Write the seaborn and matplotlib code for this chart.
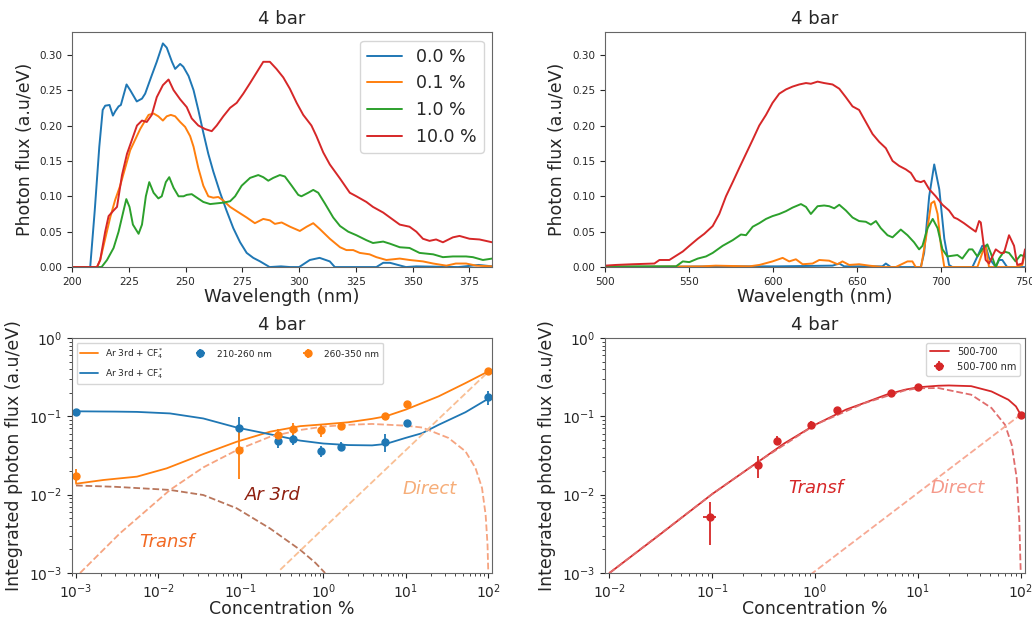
#!/usr/bin/env python3

"""Ar/CF4 scintillation: emission spectra at 4 bar and integrated photon flux vs concentration."""

import seaborn as sns
import pandas as pd
import matplotlib.pyplot as plt
from matplotlib.lines import Line2D

####################################################################################################
# DATA

# UV spectra (200-385 nm), one list pair per CF4 concentration
uv_wl_00 = [200, 208, 210, 212, 213.5, 214.6, 216.5, 218, 219, 220.5, 221.5, 224, 225.6, 228.5, 230.8, 232.2,
            235, 237.3, 240, 241.7, 244, 245.4, 247.6, 249, 251.3, 253.5, 255.6, 257.8, 260, 262.2, 265.2, 268,
            271, 274, 276.9, 279.8, 282.8, 287, 292, 296, 300, 304.7, 309, 313.5, 315.7, 334, 337, 340, 347,
            351.6, 370, 379, 385]
uv_fx_00 = [0, 0, 0.08, 0.17, 0.222, 0.228, 0.229, 0.214, 0.22, 0.227, 0.229, 0.258, 0.25, 0.234, 0.238, 0.245,
            0.27, 0.29, 0.316, 0.31, 0.29, 0.28, 0.287, 0.283, 0.27, 0.25, 0.222, 0.19, 0.16, 0.135, 0.105, 0.08,
            0.055, 0.035, 0.02, 0.013, 0.008, 0.0, 0.001, 0.0, 0.0, 0.01, 0.013, 0.008, 0.0, 0.0, 0.006, 0.006, 0.0,
            0.001, 0.0, 0.003, 0.001]

uv_wl_01 = [200, 211, 212.4, 214.6, 216.8, 219, 221.2, 223.4, 225.6, 227.8, 230, 232.2, 233.7, 235.9, 238, 240,
            241.7, 243.5, 245.4, 247.6, 249.8, 252, 253.5, 255.6, 257.8, 260, 262.2, 264.4, 266.6, 269.6, 272.5,
            276.9, 280.5, 284.2, 287.1, 289.3, 292.3, 296, 300.3, 303.3, 306.2, 309, 313.5, 318, 320.8, 323.8,
            326.7, 331, 334, 338.4, 344.3, 348.6, 354.5, 359, 364.8, 369, 373.5, 378, 385]
uv_fx_01 = [0, 0, 0.01, 0.04, 0.07, 0.095, 0.115, 0.14, 0.165, 0.18, 0.195, 0.207, 0.215, 0.217, 0.213, 0.207,
            0.213, 0.215, 0.213, 0.205, 0.198, 0.185, 0.17, 0.14, 0.115, 0.1, 0.098, 0.099, 0.094, 0.085, 0.079,
            0.07, 0.062, 0.068, 0.066, 0.061, 0.063, 0.057, 0.051, 0.057, 0.062, 0.054, 0.04, 0.028, 0.024, 0.024,
            0.02, 0.018, 0.014, 0.01, 0.012, 0.01, 0.008, 0.005, 0.002, 0.005, 0.005, 0.002, 0.001]

uv_wl_10 = [200, 213, 215.4, 218.3, 220.5, 222.7, 223.9, 225.3, 226.8, 229.3, 230.8, 232.5, 234, 235.9, 238,
            239.5, 241.3, 242.8, 244.7, 246.9, 249.1, 250.5, 252.7, 255, 257.8, 260.8, 263.7, 266.6, 269.6, 271.8,
            274.7, 278.4, 282, 284.2, 286.4, 288.6, 291.5, 293.7, 296.7, 299.6, 301, 304, 306.2, 308.4, 311.3, 315,
            318, 321.6, 325.2, 329.6, 332.5, 337, 340, 344.3, 348.6, 353, 359, 363.3, 367.7, 373.5, 376.5, 380.9,
            385]
uv_fx_10 = [0, 0, 0.01, 0.027, 0.05, 0.08, 0.096, 0.085, 0.06, 0.047, 0.06, 0.1, 0.12, 0.105, 0.097,
            0.1, 0.12, 0.127, 0.112, 0.1, 0.1, 0.102, 0.103, 0.098, 0.092, 0.089, 0.09, 0.091, 0.093, 0.1,
            0.115, 0.126, 0.13, 0.127, 0.122, 0.126, 0.13, 0.128, 0.115, 0.102, 0.1, 0.105, 0.109, 0.105, 0.09, 0.07,
            0.058, 0.05, 0.045, 0.038, 0.034, 0.036, 0.033, 0.028, 0.027, 0.02, 0.018, 0.014, 0.015, 0.015, 0.014, 0.01,
            0.012]

uv_wl_100 = [200, 211, 212.4, 214.6, 216.1, 218.3, 219.8, 222, 224.2, 226.4, 228.6, 230.8, 232.9, 235.1, 237.3,
             240, 242.5, 244.7, 247.6, 250.5, 252.7, 255.6, 258.6, 261.5, 263.7, 266.6, 269.6, 272.5, 275.4, 278.4,
             281.3, 284.2, 287.1, 290, 293, 295.9, 298.9, 301.8, 305.4, 307.6, 310.6, 313.5, 318, 322.3, 325.2,
             329.6, 332.5, 337, 340, 344.3, 348.6, 351.6, 354.5, 357.4, 360.3, 363.3, 367.7, 370.6, 375, 379.4, 385]
uv_fx_100 = [0, 0, 0.01, 0.05, 0.072, 0.08, 0.085, 0.13, 0.16, 0.18, 0.2, 0.207, 0.205, 0.215, 0.24,
             0.257, 0.265, 0.25, 0.237, 0.226, 0.21, 0.2, 0.195, 0.192, 0.2, 0.213, 0.225, 0.232, 0.245, 0.26,
             0.275, 0.29, 0.29, 0.28, 0.268, 0.252, 0.232, 0.215, 0.2, 0.185, 0.162, 0.145, 0.125, 0.105, 0.1,
             0.092, 0.085, 0.077, 0.07, 0.06, 0.057, 0.05, 0.04, 0.037, 0.039, 0.035, 0.042, 0.044, 0.04, 0.039, 0.035]

# visible spectra (500-750 nm)
vis_wl_00 = [500, 574, 601.8, 635.5, 639.5, 642.4, 665.2, 667.2, 670.2, 688, 690, 693, 696, 699, 702, 704.8,
             706.8, 718.7, 721.7, 724.6, 726.6, 728.6, 732.6, 734.6, 736.5, 739.4, 750]
vis_fx_00 = [0, 0.001, 0.001, 0.002, 0.005, 0.001, 0.001, 0.005, 0.0, 0.0, 0.02, 0.1, 0.145, 0.11, 0.04, 0.003,
             0.0, 0.0, 0.015, 0.03, 0.03, 0.013, 0.0, 0.01, 0.01, 0.0, 0.0]

vis_wl_01 = [500, 558, 566, 586, 592, 599.8, 605.8, 609.7, 613.7, 617.7, 623.6, 627.6, 633.5, 638.5, 641.4, 645.4,
             651.3, 657.3, 665.2, 673.1, 680.1, 683, 685, 688.2, 691, 694.2, 696, 698, 700, 702, 721.7, 724.6,
             726.6, 728.6, 744.4, 748.4, 750]
vis_fx_01 = [0, 0.001, 0.002, 0.001, 0.003, 0.008, 0.013, 0.008, 0.011, 0.004, 0.005, 0.01, 0.009, 0.004, 0.008,
             0.003, 0.004, 0.002, 0.0, 0.0, 0.008, 0.008, 0.0, 0.0, 0.04, 0.09, 0.093, 0.075, 0.03, 0.0, 0.0, 0.02,
             0.03, 0.0, 0.0, 0.003, 0.02]

vis_wl_10 = [500, 542.4, 546.4, 550.3, 555.3, 560.2, 564.2, 570.1, 576.1, 581, 584, 588, 591.9, 595.9, 599.8,
             603.8, 607.8, 611.7, 616.7, 619.7, 622.6, 626.6, 630.5, 633.5, 636.5, 639.5, 643.4, 647.4, 651.3,
             655.3, 658.3, 661.3, 664.2, 668.2, 671.2, 676.1, 680.1, 684, 687, 689, 692, 695.1, 698, 700.9, 703.8,
             706.8, 709.8, 712.7, 716.7, 718.7, 721.7, 724.6, 727.6, 729.6, 732.6, 734.6, 737.5, 740.5, 744.4,
             747.4, 750]
vis_fx_10 = [0.001, 0.001, 0.008, 0.007, 0.012, 0.015, 0.02, 0.03, 0.038, 0.046, 0.045, 0.057, 0.062, 0.068, 0.072,
             0.075, 0.079, 0.084, 0.089, 0.085, 0.075, 0.086, 0.087, 0.086, 0.083, 0.088, 0.08, 0.07, 0.065,
             0.064, 0.06, 0.065, 0.055, 0.045, 0.042, 0.053, 0.045, 0.035, 0.025, 0.03, 0.055, 0.068, 0.055, 0.025,
             0.015, 0.016, 0.017, 0.012, 0.025, 0.025, 0.015, 0.025, 0.032, 0.02, 0.0, 0.012, 0.022, 0.02, 0.008,
             0.017, 0.015]

vis_wl_100 = [500, 506.7, 516.6, 529.5, 532.5, 538.4, 542.4, 546.4, 550.3, 555.3, 559.2, 564.2, 568.1, 572.1,
              576.1, 580, 584, 588, 591.9, 595.9, 599.8, 603.8, 607.8, 611.7, 615.7, 619.7, 622.6, 626.6, 630.5,
              635.5, 639.5, 643.4, 647.4, 651.3, 655.3, 659.3, 663.2, 667.2, 671.2, 675.1, 679.1, 682.1, 685, 688,
              690, 693, 696.9, 700.9, 704.8, 707.8, 709.8, 713.7, 717.7, 720.7, 722.7, 723.7, 726.6, 728.6, 730.6,
              732.6, 735.5, 737.5, 740.5, 743.5, 745.4, 748.4, 750]
vis_fx_100 = [0.002, 0.003, 0.004, 0.005, 0.01, 0.01, 0.016, 0.022, 0.03, 0.04, 0.047, 0.058, 0.075, 0.1,
              0.12, 0.14, 0.16, 0.18, 0.2, 0.215, 0.232, 0.245, 0.251, 0.255, 0.258, 0.26, 0.259, 0.262, 0.26,
              0.258, 0.252, 0.24, 0.227, 0.222, 0.205, 0.188, 0.177, 0.168, 0.15, 0.143, 0.138, 0.133, 0.122, 0.12,
              0.122, 0.11, 0.1, 0.088, 0.08, 0.07, 0.068, 0.062, 0.055, 0.05, 0.065, 0.063, 0.01, 0.005, 0.015,
              0.025, 0.02, 0.02, 0.045, 0.03, 0.003, 0.005, 0.025]

conc_labels = ["0.0 %", "0.1 %", "1.0 %", "10.0 %"]

# integrated flux, 210-260 nm and 260-350 nm bands
conc_uv = [0.001, 0.096, 0.28, 0.43, 0.93, 1.63, 5.6, 10.2, 100]
flux_210 = [0.114, 0.071, 0.049, 0.051, 0.036, 0.041, 0.047, 0.082, 0.175]
err_lo_210 = [0.006, 0.021, 0.010, 0.008, 0.006, 0.005, 0.012, 0.003, 0.035]
err_hi_210 = [0.006, 0.027, 0.011, 0.009, 0.006, 0.006, 0.013, 0.003, 0.035]
flux_260 = [0.0175, 0.037, 0.058, 0.069, 0.066, 0.075, 0.102, 0.145, 0.375]
err_lo_260 = [0.0035, 0.021, 0.008, 0.011, 0.011, 0.006, 0.007, 0.008, 0.02]
err_hi_260 = [0.0035, 0.032, 0.010, 0.013, 0.011, 0.007, 0.008, 0.008, 0.02]
xerr_uv = [0.00005, 0.006, 0.014, 0.02, 0.04, 0.07, 0.25, 0.4, 2]

# fitted model curves, UV bands
fit_260_c = [0.001, 0.00215, 0.0055, 0.0126, 0.035, 0.089, 0.226, 0.525, 1, 2, 3.9, 5.7, 10, 25, 53, 100]
fit_260 = [0.0138, 0.0154, 0.017, 0.0217, 0.033, 0.0474, 0.0637, 0.075, 0.079, 0.084, 0.093, 0.100, 0.122,
           0.18, 0.266, 0.375]
fit_210_c = [0.001, 0.003, 0.0055, 0.0138, 0.035, 0.089, 0.226, 0.525, 1, 2, 3.9, 5.7, 9.9, 15.8, 25, 53, 100]
fit_210 = [0.116, 0.115, 0.114, 0.109, 0.094, 0.072, 0.059, 0.049, 0.045, 0.043, 0.0426, 0.0444, 0.053, 0.061,
           0.078, 0.113, 0.168]
ar3_c = [0.001, 0.003, 0.0138, 0.035, 0.089, 0.226, 0.525, 0.8, 1.05]
ar3_flux = [0.0131, 0.0126, 0.0115, 0.0099, 0.0067, 0.0037, 0.00197, 0.00135, 0.001]
tr_c = [0.00112, 0.0034, 0.0138, 0.035, 0.089, 0.226, 0.525, 1, 2, 3.9, 10, 15.8, 33, 53, 70, 84, 93, 98, 100]
tr_flux = [0.001, 0.0032, 0.0115, 0.0223, 0.037, 0.055, 0.067, 0.074, 0.078, 0.080, 0.076, 0.072, 0.053, 0.0357,
           0.0219, 0.0122, 0.0055, 0.0023, 0.00105]
dir_c = [0.3, 1, 10, 100]
dir_flux = [0.0011, 0.0037, 0.037, 0.37]

# visible band 500-700 nm
conc_vis = [0.096, 0.28, 0.43, 0.92, 1.63, 5.5, 10.1, 100]
flux_500 = [0.0052, 0.0237, 0.049, 0.077, 0.122, 0.199, 0.237, 0.105]
err_lo_500 = [0.0029, 0.0074, 0.006, 0.009, 0.006, 0.01, 0.012, 0.005]
err_hi_500 = [0.0028, 0.0073, 0.007, 0.009, 0.006, 0.01, 0.012, 0.005]
xerr_vis = [0.014, 0.014, 0.02, 0.04, 0.07, 0.25, 0.4, 2]
fit_vis_c = [0.01, 0.03, 0.1, 0.3, 0.5, 1, 2, 3, 5, 7.5, 10, 15.8, 20, 33, 52, 76, 90, 100]
fit_vis = [0.001, 0.003, 0.0102, 0.028, 0.045, 0.078, 0.122, 0.148, 0.19, 0.219, 0.235, 0.246, 0.248, 0.243,
           0.208, 0.163, 0.134, 0.105]
tr_vis_c = [0.01, 0.1, 0.3, 1, 3, 7.5, 10, 15.8, 33, 52, 70.5, 81.8, 91.5, 97, 100]
tr_vis = [0.001, 0.0102, 0.028, 0.078, 0.147, 0.215, 0.228, 0.23, 0.189, 0.128, 0.078, 0.0435, 0.0163, 0.0046,
          0.00107]
dir_vis_c = [0.9, 100]
dir_vis = [0.00095, 0.105]

####################################################################################################

sns.set_style("ticks", {"axes.edgecolor": "0.4"})
plt.rcParams['font.family'] = ['DejaVu Sans']
pal = sns.color_palette("tab10")
blue, orange, green, red = pal[0], pal[1], pal[2], pal[3]
series_colors = [blue, orange, green, red]

fig, axes = plt.subplots(2, 2, figsize=(10.32, 6.17), dpi=100)
fig.subplots_adjust(left=0.0698, right=0.9932, bottom=0.0713, top=0.948, wspace=0.268, hspace=0.302)

# SPECTRA
uv_sets = [(uv_wl_00, uv_fx_00), (uv_wl_01, uv_fx_01), (uv_wl_10, uv_fx_10), (uv_wl_100, uv_fx_100)]
vis_sets = [(vis_wl_00, vis_fx_00), (vis_wl_01, vis_fx_01), (vis_wl_10, vis_fx_10), (vis_wl_100, vis_fx_100)]

for ax, sets, xlim, xt in [(axes[0, 0], uv_sets, (200, 385), range(200, 376, 25)),
                           (axes[0, 1], vis_sets, (500, 750), range(500, 751, 50))]:
    for (wl, fx), lab, col in zip(sets, conc_labels, series_colors):
        df = pd.DataFrame({"wl": wl, "flux": fx})
        sns.lineplot(data=df, x="wl", y="flux", ax=ax, color=col, label=lab,
                     estimator=None, sort=False, linewidth=1.4)
    ax.set_xlim(*xlim)
    ax.set_ylim(0, 0.332)
    ax.set_xticks(list(xt))
    ax.set_yticks([0, 0.05, 0.10, 0.15, 0.20, 0.25, 0.30])
    ax.set_yticklabels(["0.00", "0.05", "0.10", "0.15", "0.20", "0.25", "0.30"])
    ax.tick_params(labelsize=7.5, length=3.5)
    ax.set_xlabel("Wavelength (nm)", fontsize=13, labelpad=1)
    ax.set_ylabel("Photon flux (a.u/eV)", fontsize=12.5)
    ax.set_title("4 bar", fontsize=13)

axes[0, 0].legend(loc="upper right", fontsize=12.5)
axes[0, 1].get_legend().remove()

# INTEGRATED FLUX, UV BANDS
ax = axes[1, 0]
ax.set_xscale("log")
ax.set_yscale("log")
sns.lineplot(x=fit_260_c, y=fit_260, ax=ax, color=orange, linewidth=1.3, estimator=None, sort=False)
sns.lineplot(x=fit_210_c, y=fit_210, ax=ax, color=blue, linewidth=1.3, estimator=None, sort=False)
sns.lineplot(x=ar3_c, y=ar3_flux, ax=ax, color="#b9765c", linewidth=1.3, linestyle="--", estimator=None, sort=False)
sns.lineplot(x=tr_c, y=tr_flux, ax=ax, color="#f6a480", linewidth=1.3, linestyle="--", estimator=None, sort=False)
sns.lineplot(x=dir_c, y=dir_flux, ax=ax, color="#f9bf94", linewidth=1.3, linestyle="--", estimator=None, sort=False)
eb1 = ax.errorbar(conc_uv, flux_210, yerr=[err_lo_210, err_hi_210], xerr=xerr_uv, fmt="o", ms=5,
                  color=blue, elinewidth=1.3, label="210-260 nm")
eb2 = ax.errorbar(conc_uv, flux_260, yerr=[err_lo_260, err_hi_260], xerr=xerr_uv, fmt="o", ms=5,
                  color=orange, elinewidth=1.3, label="260-350 nm")
ax.text(0.244, 0.0098, "Ar 3rd", color="#8e1f0f", fontsize=13, style="italic", ha="center", va="center")
ax.text(19.6, 0.0119, "Direct", color="#f6ad78", fontsize=13, style="italic", ha="center", va="center")
ax.text(0.0127, 0.0025, "Transf", color="#f26a24", fontsize=13, style="italic", ha="center", va="center")
handles = [Line2D([], [], color=orange, lw=1.3), Line2D([], [], color=blue, lw=1.3), eb1, eb2]
labels = [r"Ar 3rd + CF$_4^*$", r"Ar 3rd + CF$_4^*$", "210-260 nm", "260-350 nm"]
ax.legend(handles, labels, loc="upper left", ncol=3, fontsize=6.5, columnspacing=3.0)
ax.set_xlim(10 ** -3.048, 10 ** 2.048)
ax.set_ylim(1e-3, 1)

# INTEGRATED FLUX, VISIBLE BAND
ax = axes[1, 1]
ax.set_xscale("log")
ax.set_yscale("log")
sns.lineplot(x=fit_vis_c, y=fit_vis, ax=ax, color=red, linewidth=1.3, estimator=None, sort=False)
sns.lineplot(x=tr_vis_c, y=tr_vis, ax=ax, color="#e06c6c", linewidth=1.3, linestyle="--", estimator=None, sort=False)
sns.lineplot(x=dir_vis_c, y=dir_vis, ax=ax, color="#f7a994", linewidth=1.3, linestyle="--", estimator=None, sort=False)
eb3 = ax.errorbar(conc_vis, flux_500, yerr=[err_lo_500, err_hi_500], xerr=xerr_vis, fmt="o", ms=5,
                  color=red, elinewidth=1.3, label="500-700 nm")
ax.text(1.02, 0.0122, "Transf", color=red, fontsize=13, style="italic", ha="center", va="center")
ax.text(24.3, 0.0122, "Direct", color="#f5998a", fontsize=13, style="italic", ha="center", va="center")
ax.legend([Line2D([], [], color=red, lw=1.3), eb3], ["500-700", "500-700 nm"], loc="upper right", fontsize=7)
ax.set_xlim(10 ** -2.045, 10 ** 2.042)
ax.set_ylim(1e-3, 1)

for ax in axes[1]:
    ax.tick_params(labelsize=10, length=3.5)
    ax.tick_params(which="minor", length=2, width=0.6)
    ax.set_xlabel("Concentration %", fontsize=12.5, labelpad=-1)
    ax.set_ylabel("Integrated photon flux (a.u/eV)", fontsize=12.5)
    ax.set_title("4 bar", fontsize=13)

plt.savefig("out.png", dpi=100)
